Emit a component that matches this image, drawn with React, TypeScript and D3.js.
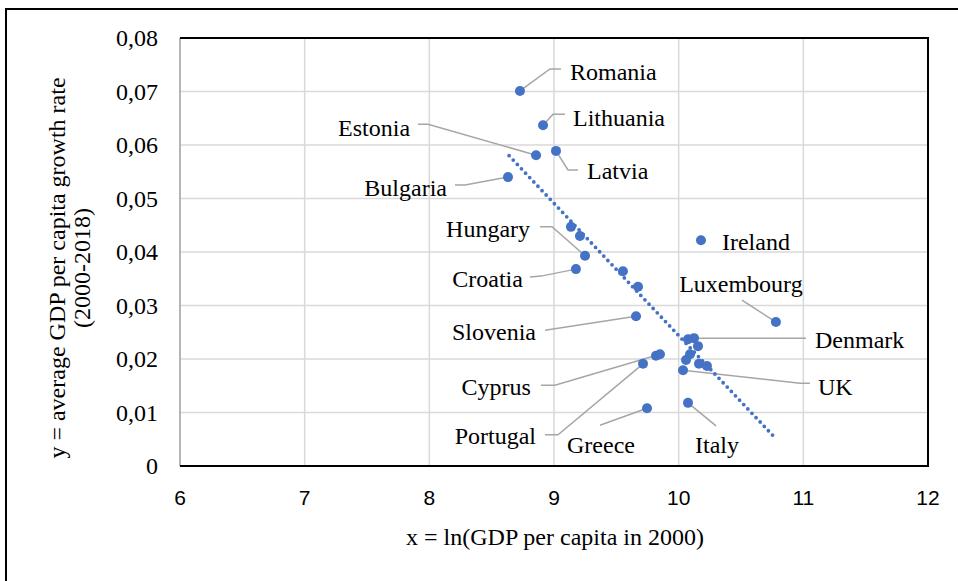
import React from "react";
import * as d3 from "d3";

// ln(GDP per capita 2000) vs average growth 2000-2018
const countries = [
  "Romania", "Lithuania", "Estonia", "Latvia", "Bulgaria",
  "", "", "Hungary", "Croatia", "", "", "Slovenia",
  "Ireland", "Luxembourg",
  "", "Denmark", "", "", "", "", "", "UK", "Italy",
  "Greece", "", "Cyprus", "Portugal",
];
const lnGdp2000 = [
  8.727, 8.912, 8.856, 9.016, 8.631,
  9.136, 9.208, 9.249, 9.176, 9.553, 9.674, 9.658,
  10.179, 10.78,
  10.075, 10.123, 10.155, 10.091, 10.059, 10.163, 10.227, 10.035, 10.075,
  9.746, 9.818, 9.85, 9.714,
];
const growthRate = [
  0.0701, 0.0637, 0.0581, 0.0589, 0.054,
  0.0447, 0.043, 0.0393, 0.0368, 0.0364, 0.0335, 0.028,
  0.0422, 0.0269,
  0.0237, 0.0239, 0.0224, 0.0209, 0.0198, 0.0191, 0.0187, 0.0179, 0.0118,
  0.0108, 0.0206, 0.0209, 0.0191,
];
const trendX = [8.64, 10.78];
const trendY = [0.058, 0.0051];
const xTicks = [6, 7, 8, 9, 10, 11, 12];
const yTicks = [0, 0.01, 0.02, 0.03, 0.04, 0.05, 0.06, 0.07, 0.08];

// label placement, pixel offsets from the point
const labelLayout: Record<string, { dx: number; dy: number; anchor: string; leader: number[][] }> = {
  Romania: { dx: 50, dy: -19, anchor: "start", leader: [[30, -22], [41, -22]] },
  Lithuania: { dx: 30, dy: -8, anchor: "start", leader: [[10, -11], [22, -11]] },
  Estonia: { dx: -126, dy: -28, anchor: "end", leader: [[-108, -31], [-118, -31]] },
  Latvia: { dx: 31, dy: 20, anchor: "start", leader: [[12, 19], [22, 19]] },
  Bulgaria: { dx: -61, dy: 10, anchor: "end", leader: [[-43, 8], [-53, 8]] },
  Hungary: { dx: -55, dy: -27, anchor: "end", leader: [[-33, -29], [-45, -29]] },
  Croatia: { dx: -53, dy: 9, anchor: "end", leader: [[-35, 7], [-46, 8]] },
  Slovenia: { dx: -100, dy: 15, anchor: "end", leader: [[-91, 14]] },
  Ireland: { dx: 21, dy: 1, anchor: "start", leader: [] },
  Luxembourg: { dx: -35, dy: -38, anchor: "middle", leader: [[-34, -22]] },
  Denmark: { dx: 121, dy: 1, anchor: "start", leader: [[112, 0]] },
  UK: { dx: 135, dy: 16, anchor: "start", leader: [[117, 13], [127, 13]] },
  Cyprus: { dx: -129, dy: 32, anchor: "end", leader: [[-105, 31], [-119, 31]] },
  Portugal: { dx: -107, dy: 72, anchor: "end", leader: [[-85, 71], [-98, 71]] },
  Greece: { dx: -80, dy: 36, anchor: "start", leader: [[-47, 17]] },
  Italy: { dx: 7, dy: 42, anchor: "start", leader: [[28, 23]] },
};

const serif = "'Liberation Serif', 'Times New Roman', serif";
const sans = "'Liberation Sans', Arial, sans-serif";
const blue = "#4472C4";
const fs = 24;

export default function App() {
  const W = 958;
  const H = 581;
  const plot = { left: 180, right: 928, top: 38, bottom: 466 };

  const x = d3.scaleLinear().domain([6, 12]).range([plot.left, plot.right]);
  const y = d3.scaleLinear().domain([0, 0.08]).range([plot.bottom, plot.top]);

  const points = countries.map((name, i) => ({
    name,
    px: x(lnGdp2000[i]),
    py: y(growthRate[i]),
  }));

  const trend = d3
    .line<number>()
    .x((d) => x(d))
    .y((_, i) => y(trendY[i]))(trendX);

  return (
    <svg width={W} height={H} style={{ position: "absolute", left: 0, top: 0, background: "#fff" }}>
      <rect x={6} y={9} width={1000} height={1000} fill="#fff" stroke="#000" strokeWidth={2} />

      {/* grid */}
      {xTicks.map((t) => (
        <line key={"gx" + t} x1={x(t)} x2={x(t)} y1={plot.top} y2={plot.bottom} stroke="#d9d9d9" strokeWidth={1.5} />
      ))}
      {yTicks.map((t) => (
        <line key={"gy" + t} x1={plot.left} x2={plot.right} y1={y(t)} y2={y(t)} stroke="#d9d9d9" strokeWidth={1.5} />
      ))}

      {/* plot frame */}
      <line x1={plot.left} x2={plot.left} y1={plot.top} y2={plot.bottom} stroke="#a6a6a6" strokeWidth={1.5} />
      <path
        d={`M${plot.left},${plot.top}H${plot.right}V${plot.bottom}H${plot.left}`}
        fill="none"
        stroke="#000"
        strokeWidth={2}
      />

      {/* tick labels */}
      {yTicks.map((t) => (
        <text key={"ty" + t} x={158} y={y(t)} dy="0.35em" textAnchor="end" fontFamily={serif} fontSize={fs} fill="#000">
          {t === 0 ? "0" : d3.format(".2f")(t).replace(".", ",")}
        </text>
      ))}
      {xTicks.map((t) => (
        <text key={"tx" + t} x={x(t)} y={498} dy="0.35em" textAnchor="middle" fontFamily={sans} fontSize={21} fill="#000">
          {t}
        </text>
      ))}

      {/* axis titles */}
      <text x={555} y={537} dy="0.35em" textAnchor="middle" fontFamily={serif} fontSize={fs} fill="#000">
        x = ln(GDP per capita in 2000)
      </text>
      <g transform="translate(57,268) rotate(-90)">
        <text x={0} y={0} dy="0.35em" textAnchor="middle" fontFamily={serif} fontSize={fs} fill="#000">
          y = average GDP per capita growth rate
        </text>
        <text x={0} y={25} dy="0.35em" textAnchor="middle" fontFamily={serif} fontSize={fs} fill="#000">
          (2000-2018)
        </text>
      </g>

      {/* leader lines */}
      {points
        .filter((p) => p.name && labelLayout[p.name].leader.length)
        .map((p) => {
          const pts = [[0, 0], ...labelLayout[p.name].leader].map(([dx, dy]) => [p.px + dx, p.py + dy] as [number, number]);
          return <path key={"ld" + p.name} d={d3.line()(pts) || ""} fill="none" stroke="#a6a6a6" strokeWidth={1.5} />;
        })}

      {/* trendline */}
      <path d={trend || ""} fill="none" stroke={blue} strokeWidth={3.8} strokeDasharray="0 6" strokeLinecap="round" />

      {/* points */}
      {points.map((p, i) => (
        <circle key={"pt" + i} cx={p.px} cy={p.py} r={5} fill={blue} />
      ))}

      {/* labels */}
      {points
        .filter((p) => p.name)
        .map((p) => {
          const l = labelLayout[p.name];
          return (
            <text
              key={"lb" + p.name}
              x={p.px + l.dx}
              y={p.py + l.dy}
              dy="0.35em"
              textAnchor={l.anchor}
              fontFamily={serif}
              fontSize={fs}
              fill="#000"
            >
              {p.name}
            </text>
          );
        })}
    </svg>
  );
}
